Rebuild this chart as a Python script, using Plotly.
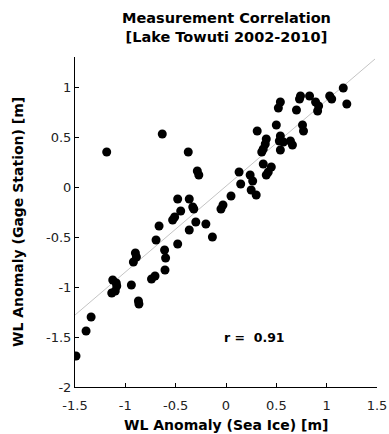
import plotly.graph_objects as go

# Scatter data: WL anomaly (Sea Ice) vs WL anomaly (Gage Station)
sea_ice = [
    -1.49, -1.39, -1.34, -1.125, -1.09, -1.085, -1.135, -1.10, -0.94, -0.87,
    -0.865, -0.90, -0.89, -0.92, -0.74, -0.705, -0.606, -0.61, -0.60, -0.695,
    -0.665, -0.48, -0.53, -0.51, -0.45, -0.48, -0.365, -0.33, -0.32, -0.365,
    -0.30, -0.20, -0.135, -0.05, -0.03, 0.05,
    -1.185, -0.633, -0.375, -0.285, -0.27,
    0.13, 0.146, 0.24, 0.265, 0.25, 0.30, 0.37, 0.45, 0.40, 0.42,
    0.37, 0.355, 0.31, 0.40, 0.39, 0.50, 0.54, 0.53, 0.57, 0.64,
    0.66, 0.54, 0.76, 0.77, 0.70, 0.54, 0.52, 0.74, 0.83, 0.73,
    0.89, 0.92, 0.91, 1.03, 1.05, 1.165, 1.20,
]
gage_station = [
    -1.69, -1.44, -1.30, -0.93, -0.96, -0.99, -1.06, -1.04, -0.98, -1.14,
    -1.17, -0.66, -0.70, -0.75, -0.92, -0.89, -0.83, -0.63, -0.71, -0.53,
    -0.39, -0.57, -0.33, -0.30, -0.24, -0.12, -0.12, -0.20, -0.22, -0.43,
    -0.35, -0.37, -0.50, -0.22, -0.18, -0.09,
    0.35, 0.53, 0.35, 0.16, 0.12,
    0.15, 0.03, 0.12, 0.06, -0.03, -0.08, 0.23, 0.20, 0.12, 0.15,
    0.38, 0.35, 0.56, 0.48, 0.43, 0.62, 0.51, 0.46, 0.45, 0.46,
    0.42, 0.37, 0.62, 0.56, 0.77, 0.85, 0.79, 0.91, 0.91, 0.88,
    0.85, 0.81, 0.76, 0.91, 0.88, 0.99, 0.83,
]

# Regression line end points
fit_x = [-1.5, 1.48]
fit_y = [-1.28, 1.28]

x_ticks = [-1.5, -1, -0.5, 0, 0.5, 1, 1.5]
x_tick_labels = ["-1.5", "-1", "-0.5", "0", "0.5", "1", "1.5"]
y_ticks = [-2, -1.5, -1, -0.5, 0, 0.5, 1]
y_tick_labels = ["-2", "-1.5", "-1", "-0.5", "0", "0.5", "1"]

title_lines = ["Measurement Correlation", "[Lake Towuti 2002-2010]"]
x_title = "WL Anomaly (Sea Ice) [m]"
y_title = "WL Anomaly (Gage Station) [m]"
r_text = "r =  0.91"
r_pos = (0.28, -1.5)

FONT = "DejaVu Sans, Verdana, sans-serif"

fig = go.Figure()
fig.add_trace(go.Scatter(
    x=fit_x, y=fit_y, mode="lines",
    line=dict(color="#c4c4c4", width=1), hoverinfo="skip", showlegend=False,
))
fig.add_trace(go.Scatter(
    x=sea_ice, y=gage_station, mode="markers",
    marker=dict(color="black", size=9, line=dict(width=0)),
    showlegend=False,
))

fig.add_annotation(
    x=r_pos[0], y=r_pos[1], text="<b>" + r_text.replace("  ", " &nbsp;") + "</b>",
    showarrow=False,
    font=dict(family=FONT, size=12.5, color="black"), xanchor="center", yanchor="middle",
)

# Title as a two-line annotation above the plot area
fig.add_annotation(
    xref="paper", yref="paper", x=0.5, y=1.0, yshift=10,
    text="<b>" + "<br>".join(title_lines) + "</b>", showarrow=False,
    xanchor="center", yanchor="bottom",
    font=dict(family=FONT, size=14.5, color="black"),
)
# Axis titles
fig.add_annotation(
    xref="paper", yref="paper", x=0.5, y=0, yshift=-38,
    text="<b>" + x_title + "</b>", showarrow=False,
    xanchor="center", yanchor="middle",
    font=dict(family=FONT, size=14, color="black"),
)
fig.add_annotation(
    xref="paper", yref="paper", x=0, y=0.5, xshift=-57,
    text="<b>" + y_title + "</b>", showarrow=False, textangle=-90,
    xanchor="center", yanchor="middle",
    font=dict(family=FONT, size=14, color="black"),
)

fig.update_layout(
    width=389, height=434,
    margin=dict(l=75, r=12, t=57, b=47),
    plot_bgcolor="white", paper_bgcolor="white",
    font=dict(family=FONT, size=13, color="black"),
    xaxis=dict(
        range=[-1.5, 1.5], tickmode="array", tickvals=x_ticks, ticktext=x_tick_labels,
        showgrid=False, zeroline=False, showline=True, linecolor="black", linewidth=1,
        ticks="inside", ticklen=4, tickcolor="black", ticklabelstandoff=6,
        tickfont=dict(family=FONT, size=13, color="#222"), automargin=False,
    ),
    yaxis=dict(
        range=[-2, 1.3], tickmode="array", tickvals=y_ticks, ticktext=y_tick_labels,
        showgrid=False, zeroline=False, showline=True, linecolor="black", linewidth=1,
        ticks="inside", ticklen=4, tickcolor="black",
        tickfont=dict(family=FONT, size=13, color="#222"), automargin=False,
    ),
)

fig.write_html("out.html")
